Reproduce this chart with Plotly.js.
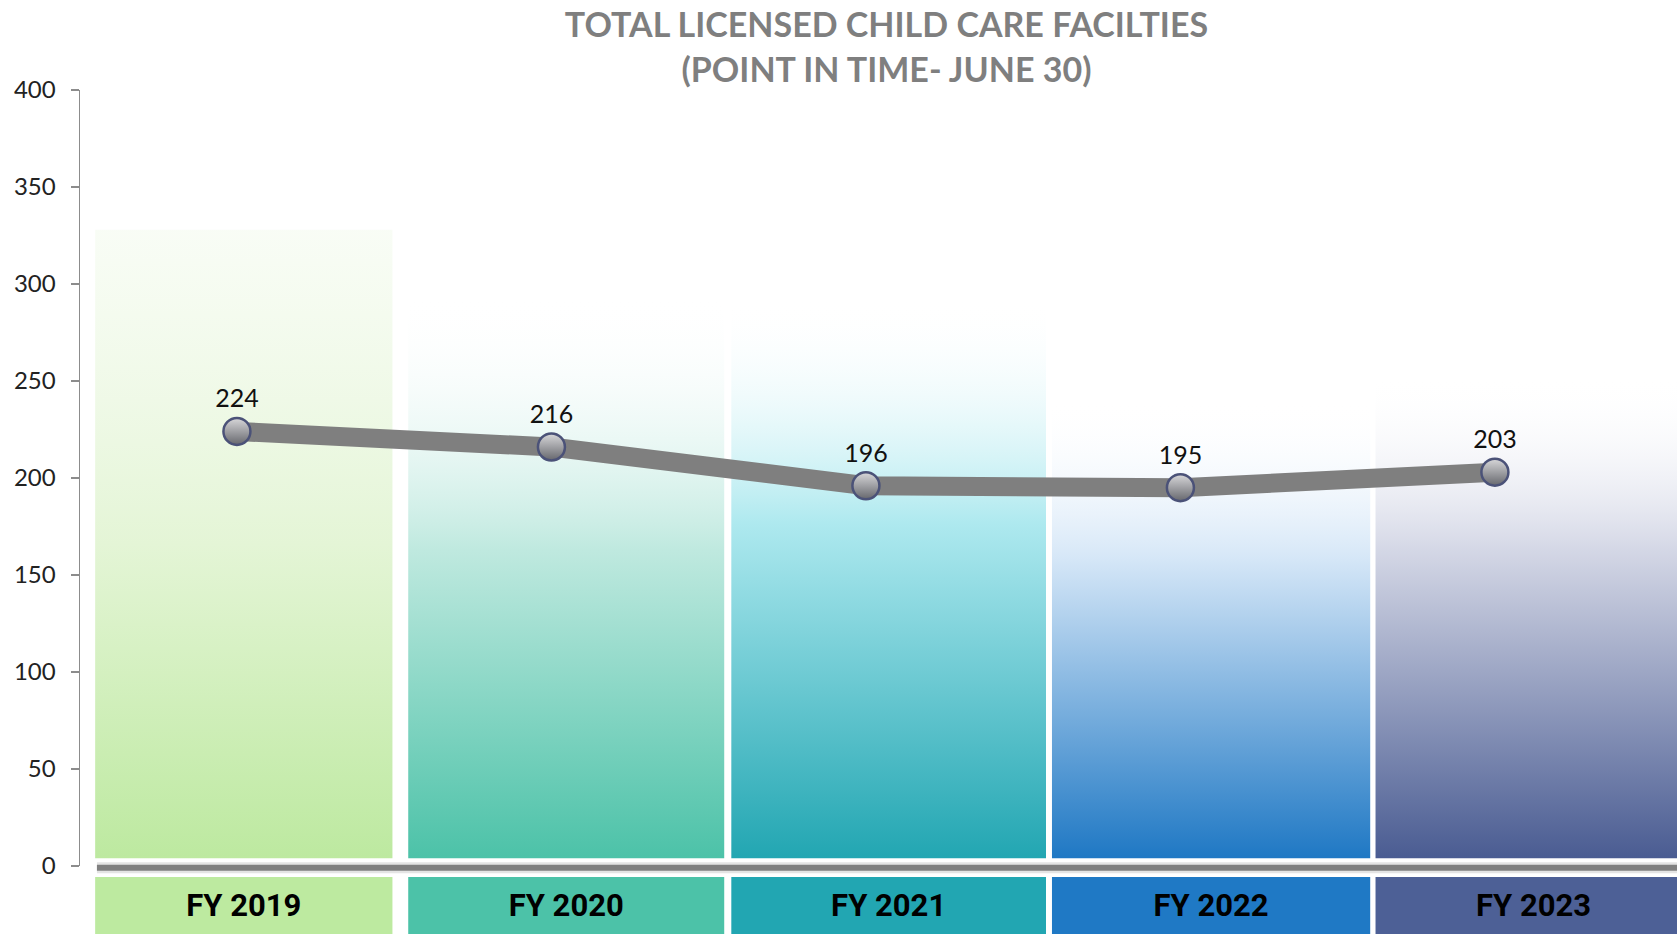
<!DOCTYPE html>
<html>
<head>
<meta charset="utf-8">
<script src="https://cdn.plot.ly/plotly-3.0.1.min.js"></script>
<style>
  html, body { margin: 0; padding: 0; background: #ffffff; }
  #plot-area { width: 1677px; height: 934px; }
</style>
</head>
<body>
<div id="plot-area"></div>
<script>
// Categories and values
var years = ["FY 2019", "FY 2020", "FY 2021", "FY 2022", "FY 2023"];
var facilities = [224, 216, 196, 195, 203];

// decorative background columns (top of fade, in axis units)
var columnTops = [328, 293, 292, 240, 252];
var columnBase = 4;
var columnWidths = [0.922, 0.98, 0.976, 0.987, 0.98];
var boxColors = ["#bdeaa0", "#4cc2a8", "#22a6b2", "#1f79c5", "#4d6096"];

// gradient stops for each column: [offset, colour, opacity], top -> bottom
var columnStops = [
    [[0, "#f4fbef", 0.6], [0.5, "#e4f5d6", 1], [1, "#bde9a0", 1]],
    [[0, "#ffffff", 0], [0.45, "#bfe9df", 1], [1, "#4cc2a8", 1]],
    [[0, "#ffffff", 0], [0.4, "#aee9ef", 1], [1, "#22a6b2", 1]],
    [[0, "#ffffff", 0], [0.35, "#d4e6f7", 1], [1, "#1f78c4", 1]],
    [[0, "#ffffff", 0], [0.35, "#d6d9e7", 1], [1, "#4a5c92", 1]]
];

var fontMain = "Lato, 'Open Sans', sans-serif";

function UpdatePlot() {
    var data = [
        {   // background columns
            type: "bar",
            x: years,
            y: columnTops.map(function (t) { return t - columnBase; }),
            base: columnBase,
            width: columnWidths,
            xaxis: "x",
            yaxis: "y",
            marker: {color: boxColors, line: {width: 0}},
            hoverinfo: "skip",
            showlegend: false
        },
        {   // category boxes under the axis
            type: "bar",
            x: years,
            y: [1, 1, 1, 1, 1],
            width: columnWidths,
            xaxis: "x",
            yaxis: "y2",
            marker: {color: boxColors, line: {width: 0}},
            text: years,
            textposition: "inside",
            insidetextanchor: "middle",
            textangle: 0,
            textfont: {family: "Roboto, sans-serif", size: 31, color: "#000000", weight: "bold"},
            hoverinfo: "skip",
            showlegend: false
        },
        {   // total licensed facilities
            type: "scatter",
            mode: "lines+markers+text",
            x: years,
            y: facilities,
            xaxis: "x2",
            yaxis: "y",
            line: {color: "#7f7f7f", width: 19},
            marker: {
                size: 27,
                color: "#d8d8da",
                gradient: {type: "vertical", color: "#66676d"},
                line: {color: "#4b5278", width: 2.5}
            },
            text: facilities.map(String),
            textposition: "top center",
            textfont: {family: fontMain, size: 25, color: "#111111"},
            cliponaxis: false,
            showlegend: false
        }
    ];

    var layout = {
        width: 1677,
        height: 934,
        margin: {l: 80, r: 0, t: 90, b: 0},
        paper_bgcolor: "#ffffff",
        plot_bgcolor: "rgba(0,0,0,0)",
        showlegend: false,
        hovermode: false,
        title: {
            text: "<b>TOTAL LICENSED CHILD CARE FACILTIES<br>(POINT IN TIME- JUNE 30)</b>",
            font: {family: fontMain, size: 34, color: "#7f7f7f"},
            xref: "paper", x: 0.505,
            yref: "container", y: 0.96, yanchor: "middle"
        },
        xaxis: {
            type: "category",
            domain: [0, 1],
            range: [-0.508, 4.445],
            anchor: "y2",
            visible: false,
            fixedrange: true
        },
        xaxis2: {
            type: "category",
            overlaying: "x",
            range: [-0.499, 4.579],
            anchor: "y",
            visible: false,
            fixedrange: true
        },
        yaxis: {
            domain: [0.0806, 1],
            range: [0, 400],
            anchor: "x",
            tickvals: [0, 50, 100, 150, 200, 250, 300, 350, 400],
            ticks: "outside",
            ticklen: 8,
            tickwidth: 1.5,
            tickcolor: "#8c8c8c",
            showline: true,
            linecolor: "#8c8c8c",
            linewidth: 1.5,
            showgrid: false,
            zeroline: false,
            ticklabelstandoff: 10,
            tickfont: {family: fontMain, size: 24, color: "#222222"},
            fixedrange: true
        },
        yaxis2: {
            domain: [0, 0.0675],
            range: [0, 1],
            anchor: "x",
            visible: false,
            fixedrange: true
        },
        // thick grey separator along the zero line
        shapes: [
            {type: "line", xref: "paper", yref: "paper", x0: 0.0106, x1: 1, y0: 0.0784, y1: 0.0784,
             line: {color: "#e4e4e4", width: 11}, layer: "above"},
            {type: "line", xref: "paper", yref: "paper", x0: 0.0106, x1: 1, y0: 0.0784, y1: 0.0784,
             line: {color: "#808080", width: 6}, layer: "above"}
        ]
    };

    Plotly.newPlot("plot-area", data, layout, {displayModeBar: false, staticPlot: true}).then(function (gd) {
        // fade the background columns to white with svg gradients
        var svgNS = "http://www.w3.org/2000/svg";
        var svg = gd.querySelector("svg.main-svg");
        var defs = document.createElementNS(svgNS, "defs");
        columnStops.forEach(function (stops, i) {
            var grad = document.createElementNS(svgNS, "linearGradient");
            grad.setAttribute("id", "colGrad" + i);
            grad.setAttribute("x1", "0"); grad.setAttribute("y1", "0");
            grad.setAttribute("x2", "0"); grad.setAttribute("y2", "1");
            stops.forEach(function (s) {
                var st = document.createElementNS(svgNS, "stop");
                st.setAttribute("offset", s[0]);
                st.setAttribute("stop-color", s[1]);
                st.setAttribute("stop-opacity", s[2]);
                grad.appendChild(st);
            });
            defs.appendChild(grad);
        });
        svg.insertBefore(defs, svg.firstChild);
        var paths = gd.querySelectorAll(".subplot.xy .barlayer .point path");
        paths.forEach(function (p, i) {
            p.style.fill = "url(#colGrad" + i + ")";
        });
    });
}

UpdatePlot();
</script>
</body>
</html>
